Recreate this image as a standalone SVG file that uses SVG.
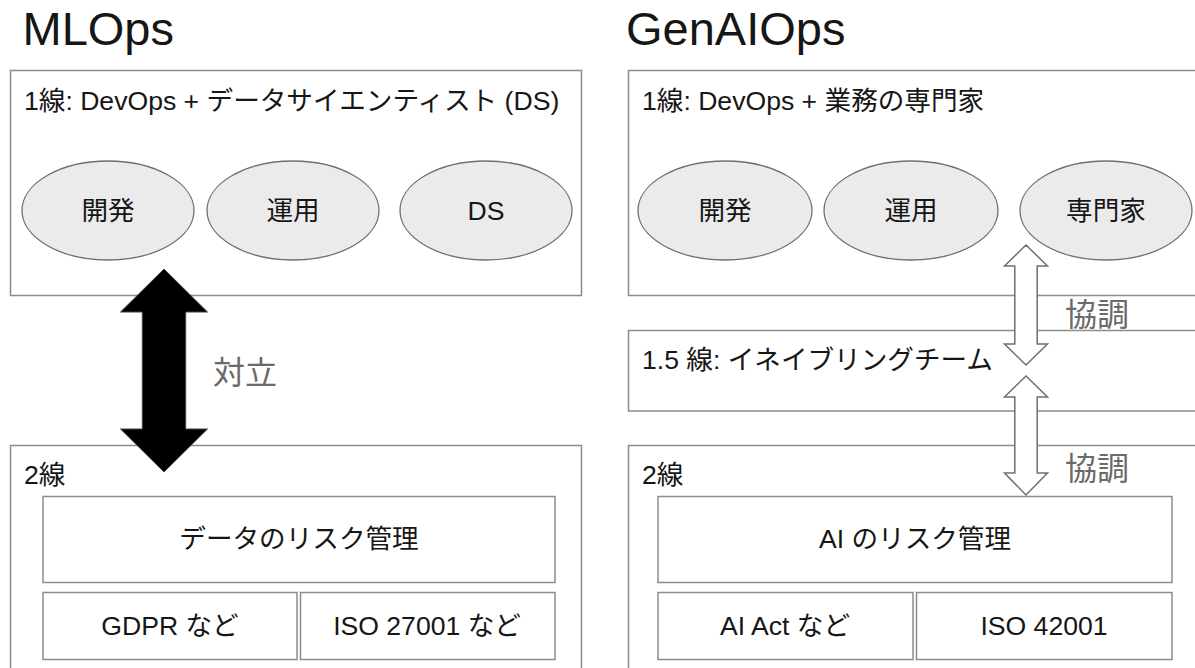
<svg xmlns="http://www.w3.org/2000/svg" width="1195" height="668" viewBox="0 0 1195 668">
<style>
text{font-family:"Liberation Sans","Noto Sans CJK JP",sans-serif;fill:#161616}
.title{font-size:47px}
.t{font-size:26.6px}
.c{text-anchor:middle}
.lbl{font-size:32px;fill:#6a6a6a}
.box{fill:#fff;stroke:#8c8c8c;stroke-width:1.5}
.ell{fill:#ebebeb;stroke:#6f6f6f;stroke-width:1.3}
.harrow{fill:#fff;stroke:#6f6f6f;stroke-width:1.5;stroke-linejoin:miter}
.barrow{fill:#000;stroke:#444;stroke-width:1}
</style>
<rect width="1195" height="668" fill="#fff"/>
<text class="title" x="22.5" y="45">MLOps</text>
<text class="title" x="626" y="45">GenAIOps</text>

<g id="ml-line1">
<rect class="box" x="10.5" y="70.5" width="571" height="225"/>
<text class="t" x="24" y="110">1線: DevOps + データサイエンティスト (DS)</text>
</g>
<g id="ml-dev"><ellipse class="ell" cx="108" cy="210.5" rx="86" ry="49.5"/><text class="t c" x="108" y="220">開発</text></g>
<g id="ml-ops"><ellipse class="ell" cx="293" cy="210.5" rx="86" ry="49.5"/><text class="t c" x="293" y="220">運用</text></g>
<g id="ml-ds"><ellipse class="ell" cx="486" cy="210.5" rx="86" ry="49.5"/><text class="t c" x="486" y="220">DS</text></g>

<g id="ml-line2">
<rect class="box" x="10.5" y="445.5" width="571" height="260"/>
<text class="t" x="24" y="484">2線</text>
</g>
<g id="ml-risk"><rect class="box" x="43" y="496.5" width="512" height="86"/><text class="t c" x="299" y="548">データのリスク管理</text></g>
<g id="ml-gdpr"><rect class="box" x="43" y="592.5" width="254" height="67"/><text class="t c" x="170" y="635">GDPR など</text></g>
<g id="ml-iso"><rect class="box" x="300.5" y="592.5" width="254.5" height="67"/><text class="t c" x="427" y="635">ISO 27001 など</text></g>

<g id="gen-line1">
<rect class="box" x="628.5" y="70.5" width="600" height="225"/>
<text class="t" x="642" y="110">1線: DevOps + 業務の専門家</text>
</g>
<g id="gen-dev"><ellipse class="ell" cx="725" cy="210.5" rx="87" ry="49.5"/><text class="t c" x="725" y="220">開発</text></g>
<g id="gen-ops"><ellipse class="ell" cx="911" cy="210.5" rx="87" ry="49.5"/><text class="t c" x="911" y="220">運用</text></g>
<g id="gen-exp"><ellipse class="ell" cx="1106" cy="210.5" rx="86" ry="49.5"/><text class="t c" x="1106" y="220">専門家</text></g>

<g id="gen-line15">
<rect class="box" x="628.5" y="330.5" width="600" height="80.5"/>
<text class="t" x="642" y="369">1.5 線: イネイブリングチーム</text>
</g>

<g id="gen-line2">
<rect class="box" x="628.5" y="445.5" width="600" height="260"/>
<text class="t" x="642" y="484">2線</text>
</g>
<g id="gen-risk"><rect class="box" x="658" y="496.5" width="514" height="86"/><text class="t c" x="915" y="548">AI のリスク管理</text></g>
<g id="gen-act"><rect class="box" x="658" y="592.5" width="255" height="67"/><text class="t c" x="785" y="635">AI Act など</text></g>
<g id="gen-iso"><rect class="box" x="916.5" y="592.5" width="255.5" height="67"/><text class="t c" x="1044" y="635">ISO 42001</text></g>

<g id="connectors">
<polygon class="barrow" points="164,269 207.5,312 185.7,312 185.7,429 207.5,429 164,472 120.5,429 142.3,429 142.3,312 120.5,312"/>
<text class="lbl" x="213" y="384">対立</text>
<polygon class="harrow" points="1026,245 1047.5,266 1037.2,266 1037.2,344 1047.5,344 1026,365 1004.5,344 1014.8,344 1014.8,266 1004.5,266"/>
<text class="lbl" x="1065" y="326">協調</text>
<polygon class="harrow" points="1026,376 1047.5,397 1037.2,397 1037.2,473 1047.5,473 1026,495 1004.5,473 1014.8,473 1014.8,397 1004.5,397"/>
<text class="lbl" x="1065" y="480">協調</text>
</g>
</svg>
